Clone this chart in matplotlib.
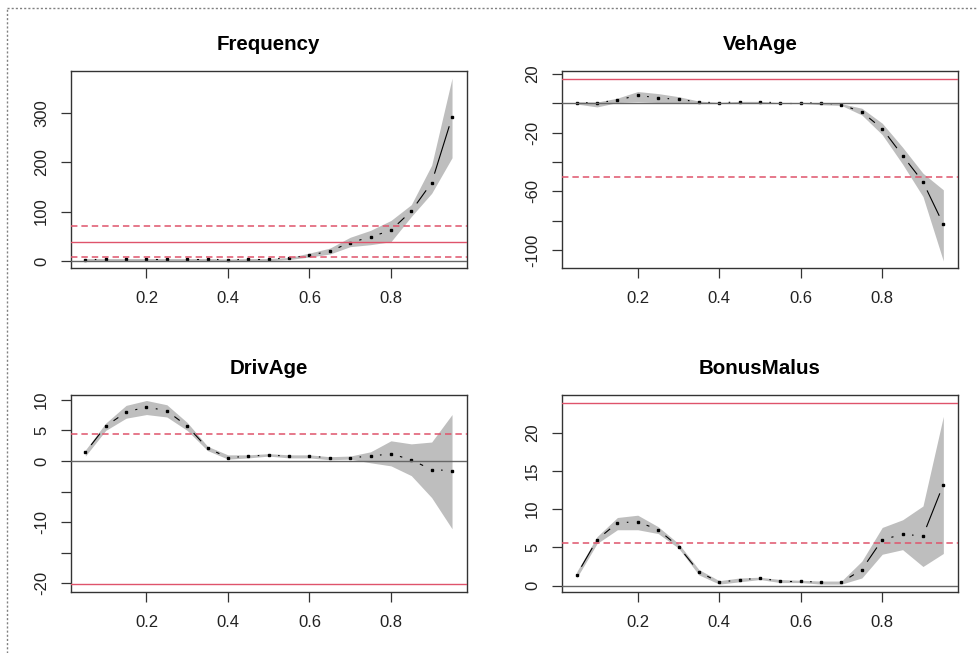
import numpy as np
import matplotlib.pyplot as plt
from matplotlib.lines import Line2D

plt.rcParams['font.family'] = ['Liberation Sans', 'DejaVu Sans']
plt.rcParams['axes.unicode_minus'] = False

# quantile grid
x = [0.05, 0.10, 0.15, 0.20, 0.25, 0.30, 0.35, 0.40, 0.45, 0.50,
     0.55, 0.60, 0.65, 0.70, 0.75, 0.80, 0.85, 0.90, 0.95]

# Frequency
freq_pts = [2, 4, 4, 4, 4, 4, 4, 2, 4, 4, 6, 11.5, 20, 37, 48.6, 62, 101, 158.5, 291]
freq_up = [5, 5, 5, 5, 5, 5, 5, 4, 5, 5, 7, 16, 26, 48, 62, 82, 114, 194, 370]
freq_lo = [0, 0.5, 0.5, 0.5, 0.5, 0.5, 0.5, 0, 0.5, 0.5, 3, 8, 14, 29, 33, 39, 90, 137, 209]
freq_solid = [39]
freq_dashed = [71, 8]

# VehAge
veh_pts = [0.4, 0.5, 2, 5.5, 3.6, 2.7, 0.9, 0.3, 1, 1, 0.2, 0.2, 0.3, -0.9, -6, -17.3, -35.7, -53.6, -82.5]
veh_up = [1, 0.8, 3.5, 8, 6.6, 4.5, 1.5, 0.6, 1.3, 1.3, 0.4, 0.4, 0.3, -0.3, -3.4, -13.6, -30, -47.7, -59]
veh_lo = [-0.5, -2.5, 0.5, 1, 0.5, 0.3, 0, 0, 0.5, 0.5, 0, 0, -1, -1.5, -8, -21.4, -41.5, -63.6, -107.5]
veh_solid = [16.4]
veh_dashed = [-50.4]

# DrivAge
driv_pts = [1.4, 5.7, 8.0, 8.85, 8.2, 5.7, 2.1, 0.55, 0.77, 1.0, 0.77, 0.77, 0.55, 0.55, 0.77, 1.2, 0.16, -1.4, -1.6]
driv_up = [1.8, 6.2, 9.1, 9.9, 9.2, 6.3, 2.4, 1.0, 1.0, 1.2, 1.0, 1.0, 0.7, 0.8, 1.5, 3.3, 2.8, 3.1, 7.6]
driv_lo = [0.8, 5.0, 7.0, 7.6, 7.2, 5.0, 1.7, 0.3, 0.5, 0.8, 0.5, 0.5, 0.2, 0.3, -0.3, -0.8, -2.4, -6.0, -11.1]
driv_solid = [-20.2]
driv_dashed = [4.45]

# BonusMalus
bm_pts = [1.4, 6.0, 8.2, 8.35, 7.3, 5.1, 1.8, 0.43, 0.78, 0.96, 0.6, 0.6, 0.43, 0.43, 2.1, 6.0, 6.7, 6.5, 13.2]
bm_up = [1.8, 6.4, 8.9, 9.2, 7.7, 5.5, 2.1, 0.65, 1.0, 1.1, 0.8, 0.7, 0.6, 0.6, 3.2, 7.6, 8.6, 10.4, 22.1]
bm_lo = [1.0, 5.5, 7.3, 7.3, 6.8, 4.9, 1.4, 0.2, 0.5, 0.8, 0.4, 0.4, 0.2, 0.2, 1.0, 4.1, 4.7, 2.5, 4.2]
bm_solid = [23.9]
bm_dashed = [5.6]

panels = [
    ("Frequency", freq_pts, freq_up, freq_lo, freq_solid, freq_dashed,
     (-14.8, 384.6), [0, 100, 200, 300], ["0", "100", "200", "300"]),
    ("VehAge", veh_pts, veh_up, veh_lo, veh_solid, veh_dashed,
     (-112.5, 22), [20, 0, -20, -40, -60, -80, -100], ["20", "", "-20", "", "-60", "", "-100"]),
    ("DrivAge", driv_pts, driv_up, driv_lo, driv_solid, driv_dashed,
     (-21.5, 10.8), [10, 5, 0, -5, -10, -15, -20], ["10", "5", "0", "", "-10", "", "-20"]),
    ("BonusMalus", bm_pts, bm_up, bm_lo, bm_solid, bm_dashed,
     (-0.87, 24.9), [0, 5, 10, 15, 20], ["0", "5", "10", "15", "20"]),
]

W, H = 978, 653
fig = plt.figure(figsize=(W / 100, H / 100), dpi=100)

# axes boxes in pixels: left, top, right, bottom
boxes = [(70.7, 71, 466.7, 268.3), (562, 71, 958, 268.3),
         (70.7, 395, 466.7, 592.3), (562, 395, 958, 592.3)]

red = "#DF536B"


def draw_b(ax, xs, ys, gap=10):
    # R's type="b": points with line segments that stop short of them
    pts = ax.transData.transform(np.column_stack([xs, ys]))
    inv = ax.transData.inverted()
    for p, q in zip(pts[:-1], pts[1:]):
        d = q - p
        L = np.hypot(*d)
        if L > 2 * gap:
            u = d / L
            seg = inv.transform(np.array([p + u * gap, q - u * gap]))
            ax.plot(seg[:, 0], seg[:, 1], color="black", lw=0.8, zorder=3)
    ax.plot(xs, ys, "s", ms=1.9, color="black", zorder=4)


for (name, pts, up, lo, solid, dashed, ylim, yt, ytl), (l, t, r, b) in zip(panels, boxes):
    ax = fig.add_axes([l / W, 1 - b / H, (r - l) / W, (b - t) / H])
    ax.set_xlim(0.014, 0.986)
    ax.set_ylim(*ylim)
    ax.fill_between(x, lo, up, color="#BEBEBE", lw=0, zorder=1)
    draw_b(ax, x, pts)
    ax.axhline(0, color="#666666", lw=1.0, zorder=5)
    for v in solid:
        ax.axhline(v, color=red, lw=1.0, zorder=5)
    for v in dashed:
        ax.axhline(v, color=red, lw=1.1, linestyle=(0, (4.2, 2.6)), zorder=5)
    ax.set_xticks([0.2, 0.4, 0.6, 0.8])
    ax.set_xticklabels(["0.2", "0.4", "0.6", "0.8"])
    ax.set_yticks(yt)
    ax.set_yticklabels(ytl, rotation=90, va="center")
    ax.tick_params(axis="both", length=7.2, width=0.9, color="#333333",
                   labelsize=12, labelcolor="#222222")
    ax.tick_params(axis="x", pad=9.5)
    ax.tick_params(axis="y", pad=8.5)
    for s in ax.spines.values():
        s.set_color("#333333")
        s.set_linewidth(1.0)
    ax.set_title(name, fontweight="bold", fontsize=14.8, pad=15)

# screenshot frame (dashed grey, top and left)
fig.add_artist(Line2D([7.5 / W, 1], [1 - 7.5 / H, 1 - 7.5 / H], transform=fig.transFigure,
                      color="#808080", lw=1.0, linestyle=(0, (1.5, 1.5))))
fig.add_artist(Line2D([7.5 / W, 7.5 / W], [0, 1 - 7.5 / H], transform=fig.transFigure,
                      color="#808080", lw=1.0, linestyle=(0, (1.5, 1.5))))

fig.savefig("out.png", dpi=100)
